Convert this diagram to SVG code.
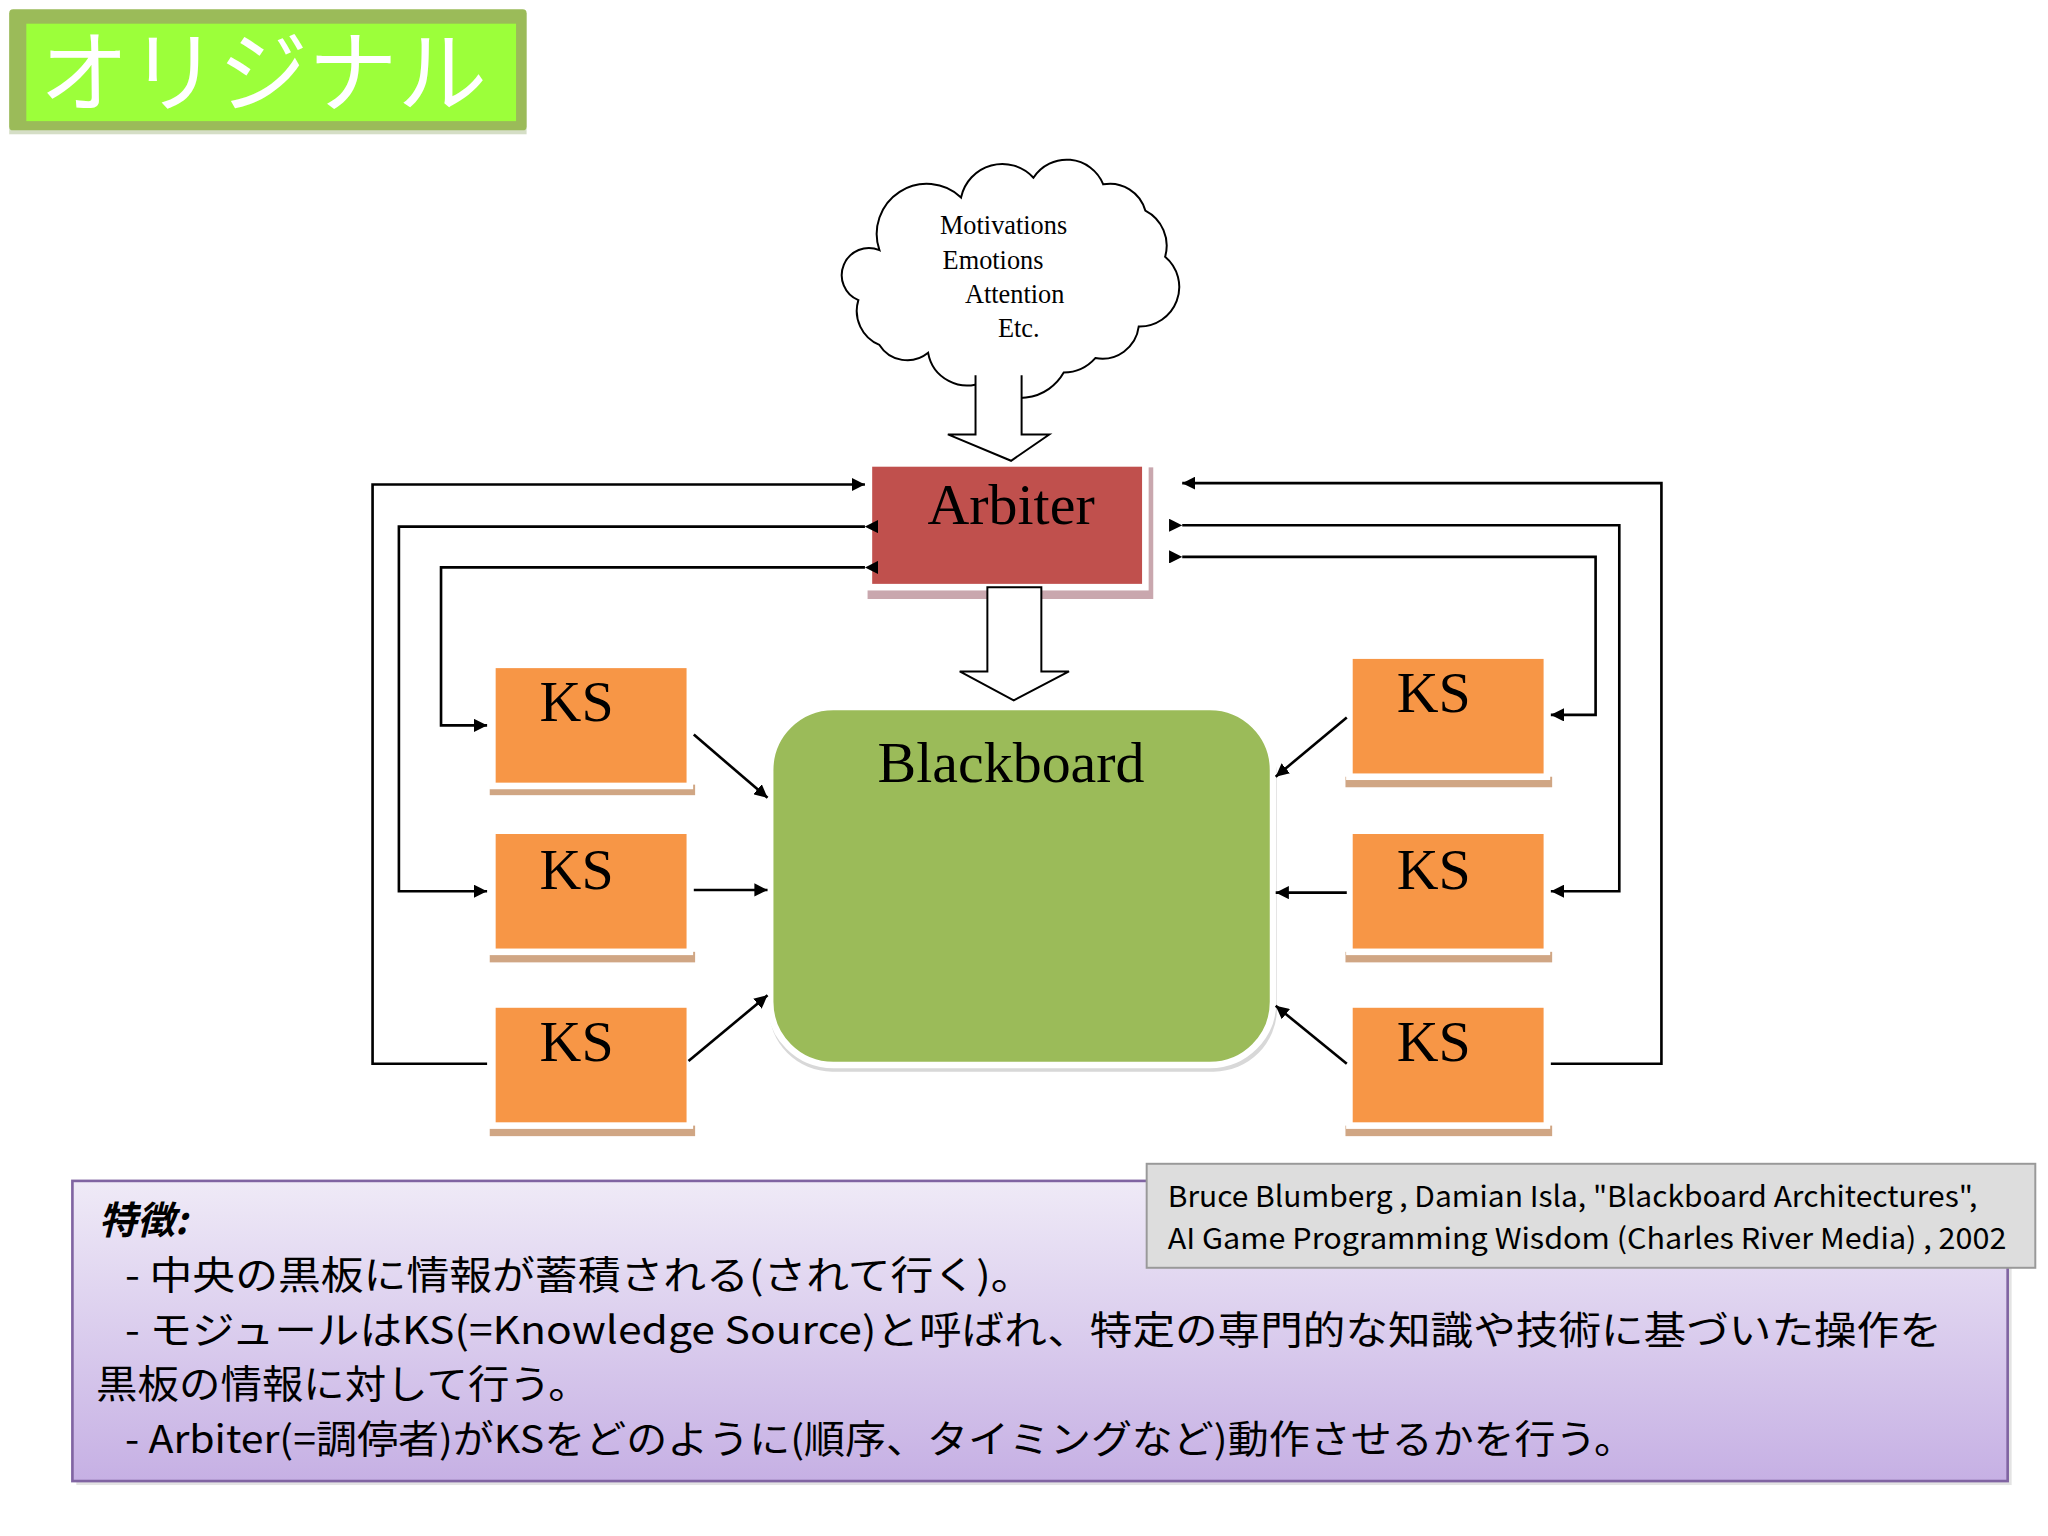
<svg xmlns="http://www.w3.org/2000/svg" width="2048" height="1536" viewBox="0 0 2048 1536">
<defs>
<marker id="ah" viewBox="0 0 10 10" refX="10" refY="5" markerWidth="10" markerHeight="10" markerUnits="userSpaceOnUse" orient="auto"><path d="M0,0 L10,5 L0,10 z" fill="#000"/></marker>
<linearGradient id="pg" x1="0" y1="0" x2="0" y2="1"><stop offset="0" stop-color="#EFEAF7"/><stop offset="1" stop-color="#C6B0E4"/></linearGradient>
<style>
.ks rect.f{fill:#F79646;stroke:#fff;stroke-width:5}
.sh{fill:#D0A684}
.ser{font-family:"Liberation Serif","DejaVu Serif",serif;fill:#000}
.jp{font-family:"Noto Sans CJK JP",sans-serif;fill:#000}
.c{fill:none;stroke:#000;stroke-width:2}
</style>
</defs>
<rect width="2048" height="1536" fill="#fff"/>
<g transform="scale(1.3165)">
<g id="title">
<rect x="7" y="10" width="393" height="92" fill="#B9C8A0" opacity="0.6"/>
<rect x="7" y="7" width="393" height="92" rx="3" fill="#9BBB59"/>
<rect x="20" y="18" width="372" height="74" fill="#9CFF3A"/>
<text x="200" y="80" text-anchor="middle" class="jp" style="fill:#fff;font-size:68px">オリジナル</text>
</g>
<g id="cloud">
<path d="M668,190 A38,38 0 0 1 730,150 A32,32 0 0 1 785,135 A30,30 0 0 1 838,140 A28,28 0 0 1 870,160 A30,30 0 0 1 885,195 A30,30 0 0 1 865,248 A28,28 0 0 1 832,272 A33,33 0 0 1 808,283 A38,38 0 0 1 747,290 A30,30 0 0 1 705,268 A25,25 0 0 1 668,262 A28,28 0 0 1 652,228 A20,20 0 0 1 668,190 Z" fill="#fff" stroke="#000" stroke-width="1.5"/>
<g class="ser" style="font-size:20px">
<text x="714" y="178">Motivations</text>
<text x="716" y="204">Emotions</text>
<text x="733" y="230">Attention</text>
<text x="758" y="256">Etc.</text>
</g>
</g>
<g id="arbiter">
<rect x="659" y="355" width="217" height="100" fill="#C9A7AE"/>
<rect x="660" y="352" width="210" height="94" fill="#C0504D" stroke="#fff" stroke-width="5"/>
<text x="768" y="398" text-anchor="middle" class="ser" style="font-size:44px">Arbiter</text>
</g>
<g id="blackboard">
<rect x="584" y="542" width="386" height="272" rx="48" fill="#D8D8D8"/>
<rect x="585" y="537" width="382" height="272" rx="48" fill="#9BBB59" stroke="#fff" stroke-width="5"/>
<text x="768" y="594" text-anchor="middle" class="ser" style="font-size:44px">Blackboard</text>
</g>
<g id="ks-l1" class="ks"><rect class="sh" x="372" y="596" width="156" height="8"/><rect class="f" x="374" y="505" width="150" height="92"/><text x="438" y="548" text-anchor="middle" class="ser" style="font-size:44px">KS</text></g>
<g id="ks-l2" class="ks"><rect class="sh" x="372" y="723" width="156" height="8"/><rect class="f" x="374" y="631" width="150" height="92"/><text x="438" y="675" text-anchor="middle" class="ser" style="font-size:44px">KS</text></g>
<g id="ks-l3" class="ks"><rect class="sh" x="372" y="855" width="156" height="8"/><rect class="f" x="374" y="763" width="150" height="92"/><text x="438" y="806" text-anchor="middle" class="ser" style="font-size:44px">KS</text></g>
<g id="ks-r1" class="ks"><rect class="sh" x="1022" y="590" width="157" height="8"/><rect class="f" x="1025" y="498" width="150" height="92"/><text x="1089" y="541" text-anchor="middle" class="ser" style="font-size:44px">KS</text></g>
<g id="ks-r2" class="ks"><rect class="sh" x="1022" y="723" width="157" height="8"/><rect class="f" x="1025" y="631" width="150" height="92"/><text x="1089" y="675" text-anchor="middle" class="ser" style="font-size:44px">KS</text></g>
<g id="ks-r3" class="ks"><rect class="sh" x="1022" y="855" width="157" height="8"/><rect class="f" x="1025" y="763" width="150" height="92"/><text x="1089" y="806" text-anchor="middle" class="ser" style="font-size:44px">KS</text></g>
<g id="connectors">
<path d="M741,285 V330 H720 L768,350 L797,330 H776 V285" fill="#fff" stroke="#000" stroke-width="1.5"/>
<path d="M750,446 V510 H729 L770,532 L812,510 H791 V446 Z" fill="#fff" stroke="#000" stroke-width="1.5"/>
<path class="c" d="M370,808 H283 V368 H657" marker-end="url(#ah)"/>
<path class="c" d="M657,400 H303 V677 H370" marker-start="url(#ah)" marker-end="url(#ah)"/>
<path class="c" d="M657,431 H335 V551 H370" marker-start="url(#ah)" marker-end="url(#ah)"/>
<path class="c" d="M1178,808 H1262 V367 H898" marker-end="url(#ah)"/>
<path class="c" d="M898,399 H1230 V677 H1178" marker-start="url(#ah)" marker-end="url(#ah)"/>
<path class="c" d="M898,423 H1212 V543 H1178" marker-start="url(#ah)" marker-end="url(#ah)"/>
<path class="c" d="M527,558 L583,606" marker-end="url(#ah)"/>
<path class="c" d="M527,676 H583" marker-end="url(#ah)"/>
<path class="c" d="M523,806 L583,756" marker-end="url(#ah)"/>
<path class="c" d="M1023,545 L969,590" marker-end="url(#ah)"/>
<path class="c" d="M1023,678 H969" marker-end="url(#ah)"/>
<path class="c" d="M1023,808 L969,764" marker-end="url(#ah)"/>
</g>
<g id="notes">
<rect x="58" y="900" width="1470" height="228" fill="#C8C8C8" opacity="0.5"/>
<rect x="55" y="897" width="1470" height="228" fill="url(#pg)" stroke="#8064A2" stroke-width="2"/>
<g class="jp" style="font-size:29px">
<text x="75" y="937" style="font-weight:bold;font-style:italic">特徴:</text>
<text x="95" y="979" textLength="690" lengthAdjust="spacingAndGlyphs">- 中央の黒板に情報が蓄積される(されて行く)。</text>
<text x="95" y="1021" textLength="1380" lengthAdjust="spacingAndGlyphs">- モジュールはKS(=Knowledge Source)と呼ばれ、特定の専門的な知識や技術に基づいた操作を</text>
<text x="73" y="1062" textLength="375" lengthAdjust="spacingAndGlyphs">黒板の情報に対して行う。</text>
<text x="95" y="1104" textLength="1147" lengthAdjust="spacingAndGlyphs">- Arbiter(=調停者)がKSをどのように(順序、タイミングなど)動作させるかを行う。</text>
</g>
</g>
<g id="citation">
<rect x="871" y="884" width="675" height="79" fill="#DDDDDD" stroke="#999" stroke-width="1.5"/>
<g class="jp" style="font-size:22px">
<text x="887" y="917" textLength="615" lengthAdjust="spacingAndGlyphs">Bruce Blumberg , Damian Isla, "Blackboard Architectures",</text>
<text x="887" y="949" textLength="637" lengthAdjust="spacingAndGlyphs">AI Game Programming Wisdom (Charles River Media) , 2002</text>
</g>
</g>
</g>
</svg>
